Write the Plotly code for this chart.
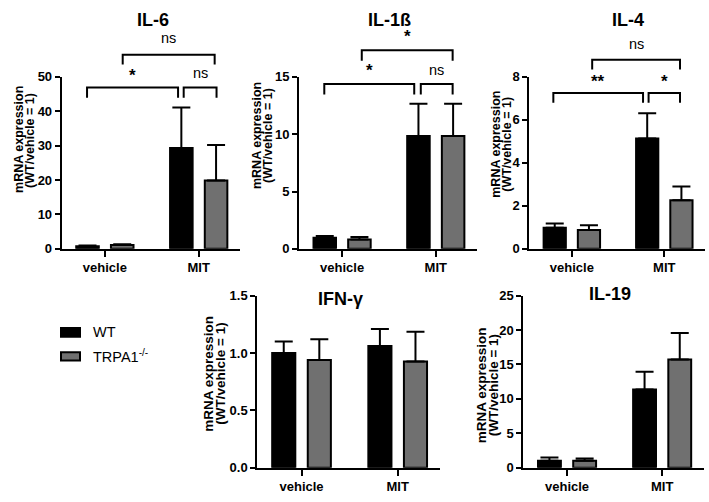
import plotly.graph_objects as go

# ---------------- data ----------------
categories = ["vehicle", "MIT"]
series_names = ["WT", "TRPA1<sup>-/-</sup>"]

il6_wt = [0.75, 29.3]
il6_wt_err = [0.2, 11.8]
il6_ko = [1.1, 19.9]
il6_ko_err = [0.25, 10.3]

il1b_wt = [0.96, 9.85]
il1b_wt_err = [0.17, 2.8]
il1b_ko = [0.82, 9.85]
il1b_ko_err = [0.22, 2.8]

il4_wt = [0.98, 5.13]
il4_wt_err = [0.2, 1.18]
il4_ko = [0.88, 2.26]
il4_ko_err = [0.22, 0.64]

ifng_wt = [1.0, 1.06]
ifng_wt_err = [0.10, 0.15]
ifng_ko = [0.94, 0.925]
ifng_ko_err = [0.18, 0.26]

il19_wt = [1.03, 11.38]
il19_wt_err = [0.47, 2.57]
il19_ko = [1.03, 15.73]
il19_ko_err = [0.33, 3.84]

panel_titles = ["IL-6", "IL-1ß", "IL-4", "IFN-γ", "IL-19"]
y_title_lines = ["mRNA expression", "(WT/vehicle = 1)"]
y_max = [50, 15, 8, 1.5, 25]
y_dtick = [10, 5, 2, 0.5, 5]
y_format = ["d", "d", "d", ".1f", "d"]

# significance brackets: (x_start, x_end, y_top, y_leg, label, label_y)
il6_sig = [(-0.19, 0.78, 46.9, 43.9, "*", 50.2),
           (0.84, 1.19, 46.9, 43.9, "ns", 50.5),
           (0.19, 1.17, 56.4, 53.6, "ns", 60.6)]
il1b_sig = [(-0.19, 0.77, 14.38, 13.45, "*", 15.44),
            (0.84, 1.18, 14.38, 13.45, "ns", 15.44),
            (0.21, 1.18, 17.33, 16.4, "*", 18.4)]
il4_sig = [(-0.2, 0.77, 7.25, 6.79, "**", 7.74),
           (0.83, 1.17, 7.25, 6.79, "*", 7.74),
           (0.22, 1.17, 8.8, 8.34, "ns", 9.45)]

# ---------------- layout config ----------------
W, H = 709, 502
# pixel boxes (left, right, top, bottom) of each plot area
boxes = [(61.7, 240, 72, 249.3),
         (299, 477, 72, 249.3),
         (529.3, 705, 72, 249.3),
         (257.3, 440, 297.5, 475),
         (523.3, 704, 297.5, 475)]
title_pos = [(153, 13.5), (389, 13.5), (628, 13.5), (340, 301), (610, 296)]
# y-title: (x of line 1, x of line 2, y centre, font size)
ytitle_pos = [(19, 30, 137, 12.5),
              (257, 268, 133, 12.5),
              (496, 507, 142, 12.5),
              (209, 221, 378, 13.5),
              (481, 493, 390, 13.5)]
x_range = [-0.46, 1.44]

FONT = "Liberation Sans, Arial, Helvetica, sans-serif"
WT_COLOR = "#000000"
KO_COLOR = "#707070"

wt_vals = [il6_wt, il1b_wt, il4_wt, ifng_wt, il19_wt]
wt_errs = [il6_wt_err, il1b_wt_err, il4_wt_err, ifng_wt_err, il19_wt_err]
ko_vals = [il6_ko, il1b_ko, il4_ko, ifng_ko, il19_ko]
ko_errs = [il6_ko_err, il1b_ko_err, il4_ko_err, ifng_ko_err, il19_ko_err]
sigs = [il6_sig, il1b_sig, il4_sig, [], []]

fig = go.Figure()
layout = dict(
    width=W, height=H,
    margin=dict(l=0, r=0, t=0, b=0),
    paper_bgcolor="white", plot_bgcolor="white",
    barmode="group", bargap=0.26, bargroupgap=0.35,
    showlegend=False,
    font=dict(family=FONT, color="black"),
)
shapes = []
annotations = []

for i in range(5):
    n = "" if i == 0 else str(i + 1)
    xa, ya = "x" + n, "y" + n
    for vals, errs, color, name in ((wt_vals[i], wt_errs[i], WT_COLOR, series_names[0]),
                                    (ko_vals[i], ko_errs[i], KO_COLOR, series_names[1])):
        fig.add_trace(go.Bar(
            x=categories, y=vals, name=name, xaxis=xa, yaxis=ya,
            marker=dict(color=color, line=dict(color="black", width=2)),
            error_y=dict(type="data", symmetric=False, array=errs,
                         arrayminus=[0] * len(errs), color="black",
                         thickness=2, width=9),
            showlegend=False,
        ))
    l, r, t, b = boxes[i]
    layout["xaxis" + n] = dict(
        domain=[l / W, r / W], anchor=ya, range=x_range, type="category",
        showline=True, linecolor="black", linewidth=2,
        ticks="outside", ticklen=6, tickwidth=2, tickcolor="black",
        tickfont=dict(family=FONT, size=13, weight="bold"),
        showgrid=False, zeroline=False, fixedrange=True,
    )
    layout["yaxis" + n] = dict(
        domain=[1 - b / H, 1 - t / H], anchor=xa, range=[0, y_max[i]],
        dtick=y_dtick[i], tick0=0, tickformat=y_format[i],
        showline=True, linecolor="black", linewidth=2,
        ticks="outside", ticklen=5, tickwidth=2, tickcolor="black",
        tickfont=dict(family=FONT, size=13, weight="bold"),
        showgrid=False, zeroline=False,
    )
    tx, ty = title_pos[i]
    annotations.append(dict(
        text=panel_titles[i], x=tx / W, y=1 - ty / H, xref="paper", yref="paper",
        xanchor="center", yanchor="middle", showarrow=False,
        font=dict(family=FONT, size=18, weight="bold"),
    ))
    lx1, lx2, lyc, lfs = ytitle_pos[i]
    for txt, lx in zip(y_title_lines, (lx1, lx2)):
        annotations.append(dict(
            text=txt, x=lx / W, y=1 - lyc / H, xref="paper", yref="paper",
            xanchor="center", yanchor="middle", textangle=-90, showarrow=False,
            font=dict(family=FONT, size=lfs, weight="bold"),
        ))
    for (x0, x1, ytop, yleg, label, ly) in sigs[i]:
        ym = y_max[i]
        shapes.append(dict(
            type="path", xref=xa, yref=ya + " domain",
            path="M %f,%f L %f,%f L %f,%f L %f,%f" % (
                x0, yleg / ym, x0, ytop / ym, x1, ytop / ym, x1, yleg / ym),
            line=dict(color="black", width=2),
        ))
        star = "*" in label
        annotations.append(dict(
            text=label, x=(x0 + x1) / 2, y=ly / ym, xref=xa, yref=ya + " domain",
            xanchor="center", yanchor="middle", showarrow=False,
            yshift=1 if star else 2,
            font=dict(family=FONT, size=17 if star else 14.5,
                      weight="bold" if star else "normal"),
        ))

# legend (drawn manually to match the wide key boxes)
legend_items = [(series_names[0], WT_COLOR, 331, 340), (series_names[1], KO_COLOR, 356, 364.5)]
for name, color, y0, y1 in legend_items:
    shapes.append(dict(type="rect", xref="paper", yref="paper",
                       x0=61 / W, x1=80 / W, y0=1 - y1 / H, y1=1 - y0 / H,
                       fillcolor=color, line=dict(color="black", width=2)))
    annotations.append(dict(text=name, x=91 / W, y=1 - (y0 + y1) / 2 / H,
                            xref="paper", yref="paper", xanchor="left", yanchor="middle",
                            showarrow=False, font=dict(family=FONT, size=14.5)))

layout["shapes"] = shapes
layout["annotations"] = annotations
fig.update_layout(**layout)
fig.write_html("out.html")
